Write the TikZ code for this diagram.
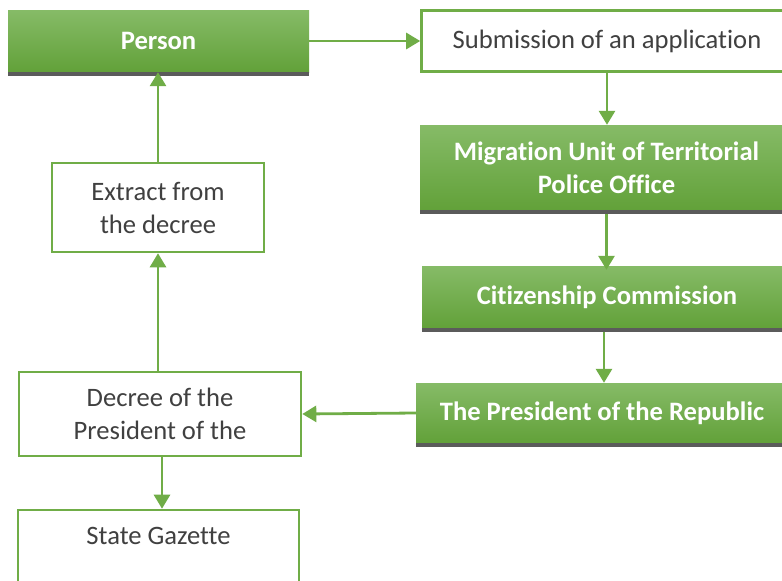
\documentclass[tikz,border=0pt]{standalone}
\usepackage{fontspec}
\setmainfont{Carlito}[Ligatures={NoCommon,NoRequired,NoContextual}]
\usetikzlibrary{arrows.meta,positioning,calc}
\definecolor{LeafGreen}{HTML}{70AD47}
\definecolor{GreenTop}{HTML}{86BB67}
\definecolor{GreenBot}{HTML}{62A139}
\definecolor{StripGrey}{HTML}{5B5B5B}
\definecolor{TextGrey}{HTML}{404040}

\begin{document}
\begin{tikzpicture}[
    x=1pt, y=1pt,
    grn/.style={rectangle,top color=GreenTop,bottom color=GreenBot,draw=none,
      text=white,font=\fontsize{26.6}{33}\selectfont\bfseries,align=center,inner sep=0pt},
    wht/.style={rectangle,draw=LeafGreen,line width=2.6pt,fill=white,
      text=TextGrey,font=\fontsize{26.6}{33}\selectfont,align=center,inner sep=0pt},
    flow/.style={-{Triangle[length=14pt,width=16pt]},line width=2.8pt,LeafGreen},
  ]
  \clip (0,0) rectangle (782,-581);
  \fill[white] (0,0) rectangle (782,-581);
  % Right column
  \node[grn,minimum width=301,minimum height=62] (person) at (158.5,-41) {Person};
  \node[wht,minimum width=371,minimum height=61] (subm) at (607,-41) {Submission of an application};
  \node[grn,minimum width=373,minimum height=85] (migr) at (606.5,-167.5) {Migration Unit of Territorial\\Police Office};
  \node[grn,minimum width=370,minimum height=62] (citiz) at (607,-297) {Citizenship Commission};
  \node[grn,minimum width=372,minimum height=60] (pres) at (602,-413) {The President of the Republic};
  % Left column
  \node[wht,minimum width=282,minimum height=84] (decree) at (160,-414) {Decree of the\\President of the};
  \node[wht,minimum width=212,minimum height=89] (extract) at (158,-207.5) {Extract from\\the decree};
  \node[wht,minimum width=281,minimum height=84] (state) at (158.5,-552) {State Gazette\\~};
  % Shadow strips under green boxes
  \foreach \n in {person,migr,citiz,pres}
    \fill[StripGrey] (\n.south west) rectangle ([yshift=-4pt]\n.south east);
  % Connectors
  \draw[flow] (person.east) -- (subm.west);
  \draw[flow] (subm.south) -- (subm.south |- migr.north);
  \draw[flow] ([yshift=-4pt]migr.south) -- ([yshift=-4pt]migr.south |- citiz.north);
  \draw[flow] ([xshift=-3pt,yshift=-4pt]citiz.south) -- ([xshift=-3pt]citiz.south |- pres.north);
  \draw[flow] (pres.west) -- (decree.east);
  \draw[flow] ([xshift=2pt]decree.south) -- ([xshift=2pt]decree.south |- state.north);
  \draw[flow] (extract.south |- decree.north) -- (extract.south);
  \draw[flow] (extract.north) -- (extract.north |- person.south);
\end{tikzpicture}
\end{document}
